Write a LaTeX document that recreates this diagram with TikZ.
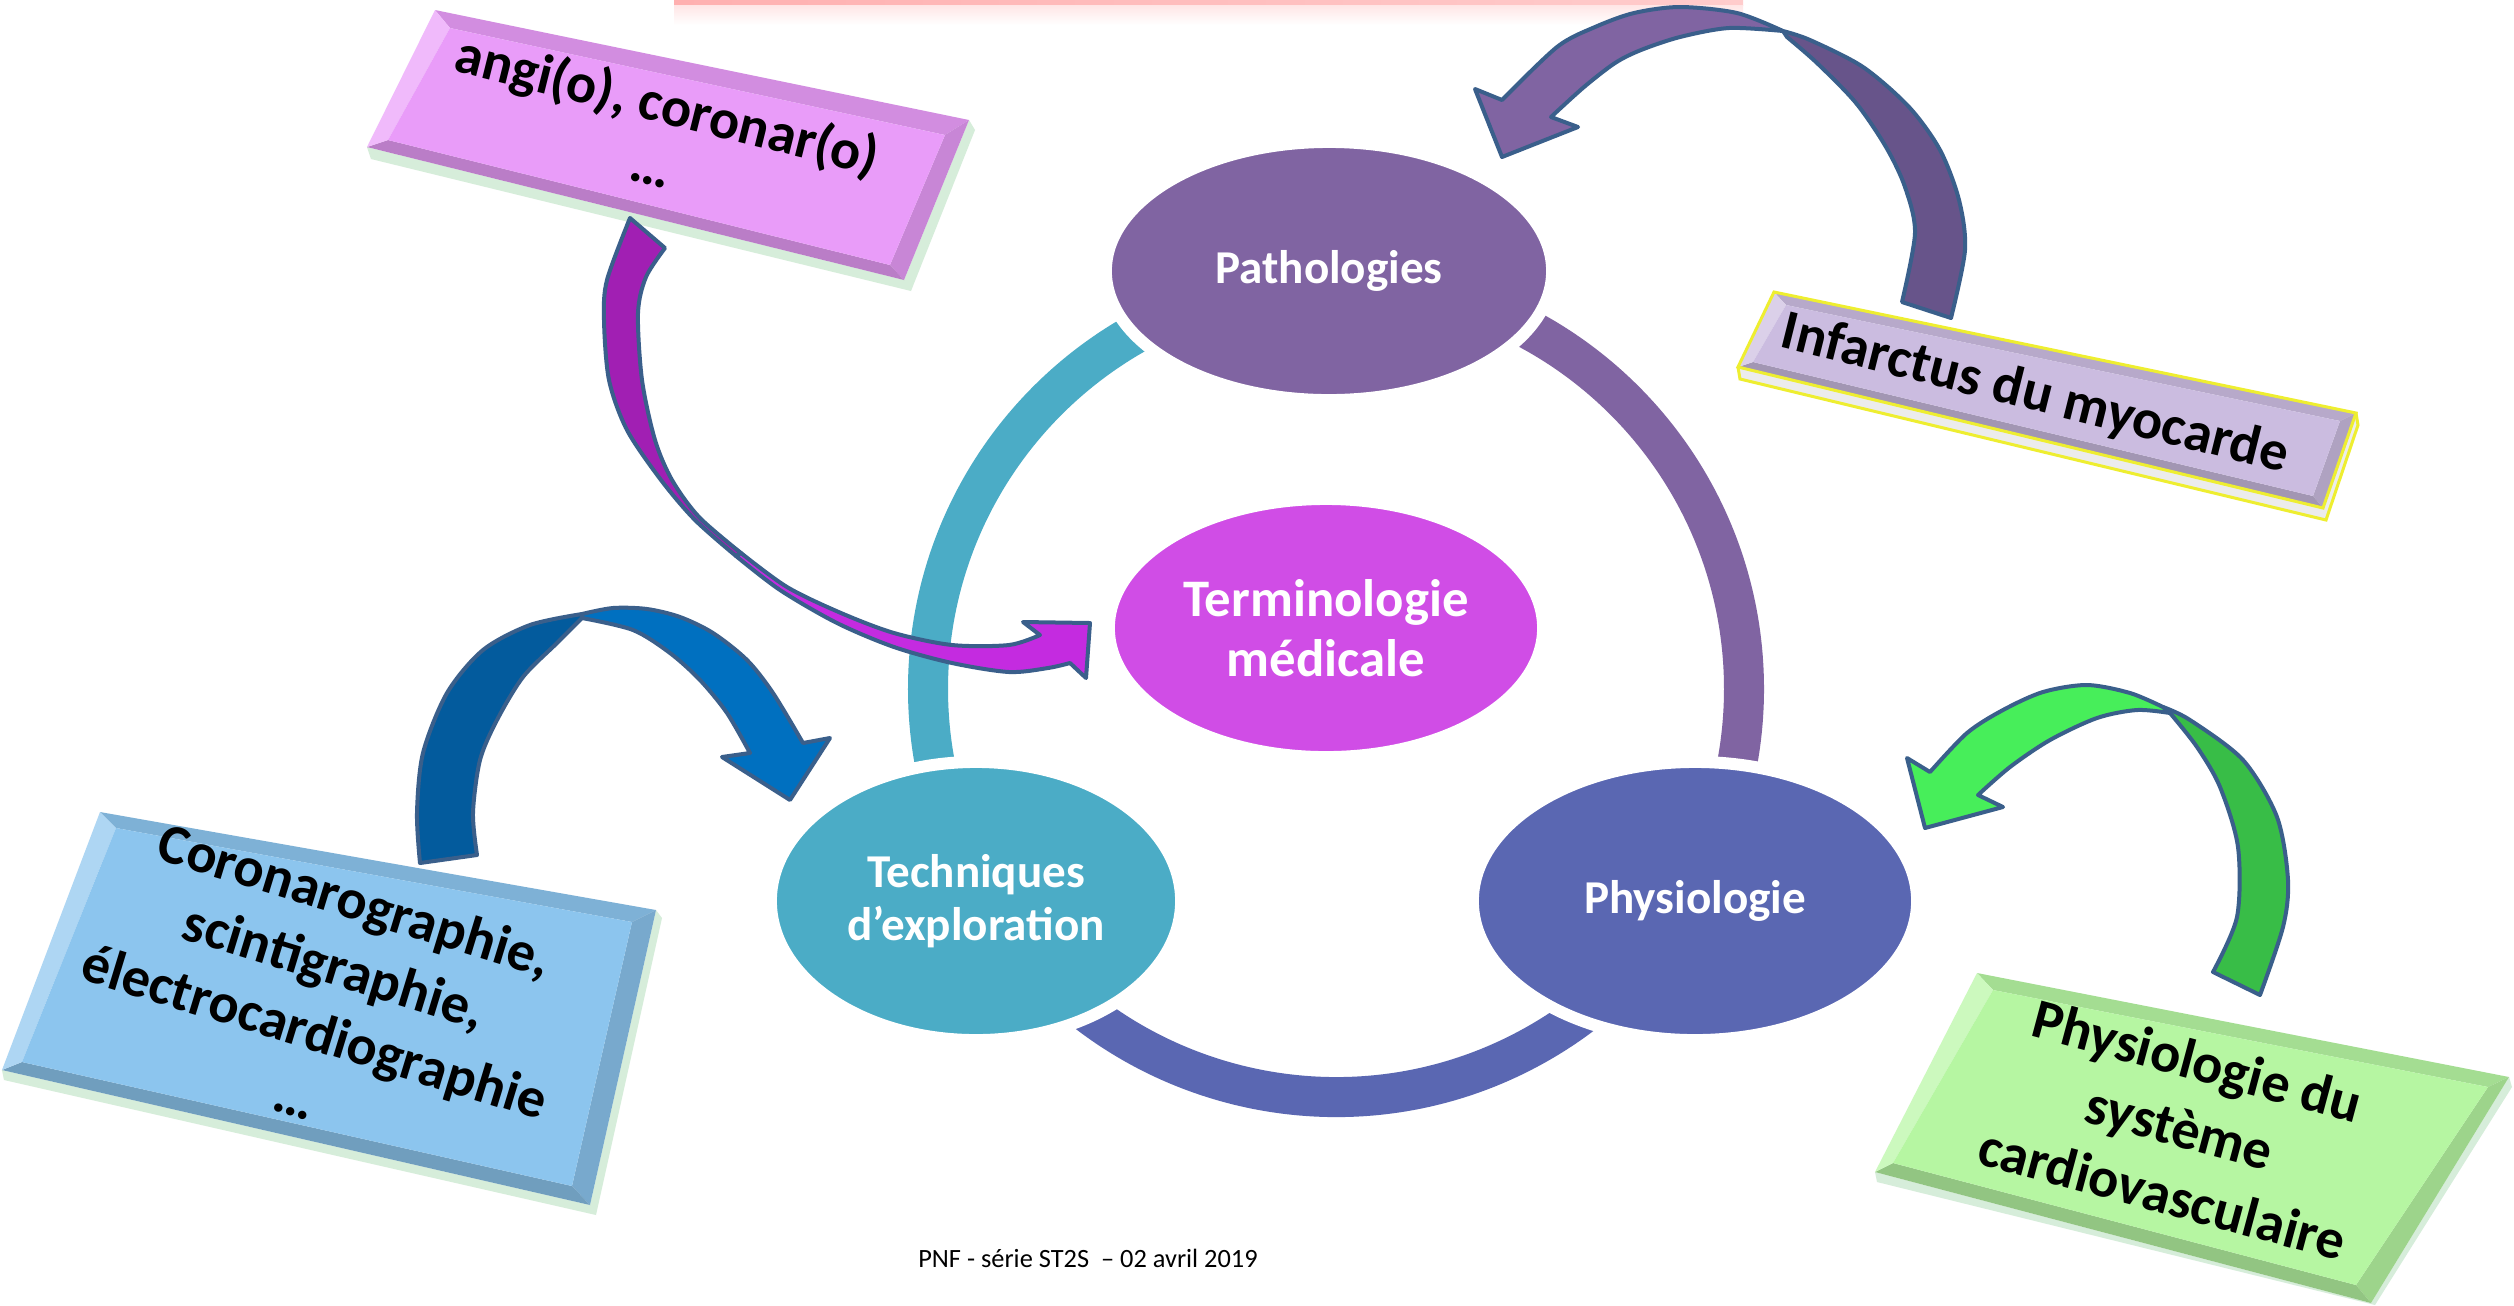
\documentclass[tikz,border=0pt]{standalone}
\usepackage{fontspec}
\setmainfont{Carlito}
\usepackage{tikz}
\usepackage{xcolor}
\usetikzlibrary{shapes.geometric}

\definecolor{pathocol}{HTML}{8064A2}
\definecolor{termcol}{HTML}{D04DE6}
\definecolor{techcol}{HTML}{4BACC6}
\definecolor{physiocol}{HTML}{5A67B2}
\definecolor{bandedge}{HTML}{3A5F8B}
\definecolor{purptail}{HTML}{67548A}
\definecolor{purphead}{HTML}{8064A2}
\definecolor{magtail}{HTML}{A11FB3}
\definecolor{maghead}{HTML}{C42BE0}
\definecolor{bluetail}{HTML}{035B9D}
\definecolor{bluehead}{HTML}{0070C0}
\definecolor{greentail}{HTML}{38BD47}
\definecolor{greenhead}{HTML}{47EE5A}
\definecolor{angibox}{HTML}{E99CF9}
\definecolor{infbox}{HTML}{CBBCE0}
\definecolor{corobox}{HTML}{8CC5EE}
\definecolor{physbox}{HTML}{B6F6A2}
\definecolor{edgegreen}{HTML}{D6EDDA}
\definecolor{barleft}{HTML}{FFB0B0}
\definecolor{barright}{HTML}{FFCCCC}
\definecolor{boxyellow}{HTML}{EEEE30}

\newcommand{\bevelbox}[9]{%
    \fill[#9!90!black] (#1) -- (#2) -- (#6) -- (#5) -- cycle;
    \fill[#9!86!black] (#2) -- (#3) -- (#7) -- (#6) -- cycle;
    \fill[#9!80!black] (#3) -- (#4) -- (#8) -- (#7) -- cycle;
    \fill[#9!70!white] (#4) -- (#1) -- (#5) -- (#8) -- cycle;
    \fill[#9] (#5) -- (#6) -- (#7) -- (#8) -- cycle;
}

\tikzset{
    hub/.style={ellipse, fill=#1, draw=white, line width=0.12cm, inner sep=0pt, text=white, align=center, font=\bfseries\fontsize{13.4}{15}\selectfont},
    ringarc/.style={line width=0.4cm},
    boxtext/.style={text=black, align=center, font=\bfseries\fontsize{16}{19.5}\selectfont},
    band/.style={draw=bandedge, line width=0.04cm, line join=round},
}

\begin{document}
\begin{tikzpicture}[x=0.01cm, y=-0.01cm]
    \useasboundingbox (0,0) rectangle (2514,1305);
    \fill[white] (0,0) rectangle (2514,1305);

    \shade[left color=barleft, right color=barright] (674,0) rectangle (1743,5);
    \shade[top color=barright!50, bottom color=white] (674,5) rectangle (1743,25);

    \coordinate (ring) at (1336,689);
    \draw[ringarc, techcol] (ring) ++(-90:408) arc[start angle=-90, end angle=-210, radius=408];
    \draw[ringarc, pathocol] (ring) ++(-90:408) arc[start angle=-90, end angle=30, radius=408];
    \draw[ringarc, physiocol] (ring) ++(150:408) arc[start angle=150, end angle=30, radius=408];

    \node[hub=pathocol, minimum width=4.46cm, minimum height=2.58cm] (patho) at (1329,271) {Pathologies};
    \node[hub=termcol, minimum width=4.34cm, minimum height=2.58cm, font=\bfseries\fontsize{15}{17}\selectfont] (term) at (1326,628) {Terminologie\\médicale};
    \node[hub=techcol, minimum width=4.1cm, minimum height=2.78cm] (tech) at (976,901) {Techniques\\d’exploration};
    \node[hub=physiocol, minimum width=4.44cm, minimum height=2.78cm] (physio) at (1695,901) {Physiologie};

    \fill[edgegreen] (367,147) -- (904,280) -- (969,120) -- (975,130) -- (911,291) -- (371,159) -- cycle;
    \bevelbox{435,10}{969,120}{904,280}{367,147}{450,28}{945,135}{890,265}{388,140}{angibox}
    \node[boxtext, rotate=-14, font=\bfseries\fontsize{16}{18}\selectfont] (angi) at (660,134) {angi(o), coronar(o)\\…};

    \fill[gray!15] (1738,367) -- (2323,508) -- (2356,413) -- (2358,425) -- (2326,520) -- (1740,379) -- cycle;
    \bevelbox{1774,292}{2356,413}{2323,508}{1738,367}{1786,305}{2340,421}{2313,496}{1753,362}{infbox}
    \draw[boxyellow, line width=0.03cm] (1774,292) -- (2356,413) -- (2323,508) -- (1738,367) -- cycle;
    \draw[boxyellow, line width=0.03cm] (1738,367) -- (1740,379) -- (2326,520) -- (2358,425) -- (2356,413);
    \node[boxtext, rotate=-14] (infarct) at (2035,395) {Infarctus du myocarde};

    \fill[edgegreen] (2,1070) -- (590,1205) -- (656,910) -- (662,918) -- (596,1215) -- (4,1080) -- cycle;
    \bevelbox{100,812}{656,910}{590,1205}{2,1070}{116,828}{632,922}{572,1186}{22,1062}{corobox}
    \node[boxtext, rotate=-17] (coro) at (325,998) {Coronarographie,\\scintigraphie,\\électrocardiographie\\…};

    \fill[edgegreen] (1875,1172) -- (2371,1303) -- (2509,1077) -- (2512,1087) -- (2375,1305) -- (1877,1182) -- cycle;
    \bevelbox{1977,973}{2509,1077}{2371,1303}{1875,1172}{1993,990}{2488,1087}{2356,1285}{1893,1163}{physbox}
    \node[boxtext, rotate=-15] (systeme) at (2180,1127) {Physiologie du\\système\\cardiovasculaire};

    \filldraw[band, fill=purptail] plot[smooth] coordinates {(1951,318) (1965,250) (1959,200) (1940,150) (1909,107) (1863,67) (1810,40) (1783,31)} -- plot[smooth] coordinates {(1787,37) (1817,63) (1856,103) (1886,147) (1905,187) (1915,233) (1902,302)} -- cycle;
    \filldraw[band, fill=purphead] plot[smooth] coordinates {(1783,31) (1737,13) (1680,7) (1634,13) (1595,27) (1557,47) (1502,100)} -- (1475,89) -- (1502,157) -- (1578,127) -- plot[smooth] coordinates {(1551,117) (1584,87) (1615,63) (1641,50) (1680,37) (1729,28) (1783,31)} -- cycle;

    \filldraw[band, fill=magtail] plot[smooth] coordinates {(630,218) (607,280) (604,320) (609,380) (627,430) (661,480) (695,520) (736,556)} -- plot[smooth] coordinates {(741,553) (699,517) (672,480) (655,440) (642,380) (638,313) (646,277) (665,248)} -- cycle;
    \filldraw[band, fill=maghead] plot[smooth] coordinates {(736,556) (780,590) (837,623) (894,647) (952,663) (1009,672) (1048,668) (1070,663)} -- (1086,678) -- (1090,623) -- (1023,622) -- plot[smooth] coordinates {(1040,635) (1009,645) (952,645) (894,633) (841,613) (787,587) (741,553)} -- cycle;

    \filldraw[band, fill=bluetail] plot[smooth] coordinates {(420,863) (417,813) (423,753) (447,693) (483,650) (530,625) (582,614)} -- plot[smooth] coordinates {(582,618) (557,643) (523,677) (497,720) (480,760) (473,813) (477,855)} -- cycle;
    \filldraw[band, fill=bluehead] plot[smooth] coordinates {(582,614) (613,608) (647,609) (680,617) (713,633) (747,660) (773,693) (803,743)} -- (830,738) -- (790,800) -- (722,757) -- plot[smooth] coordinates {(750,753) (727,713) (700,680) (670,653) (633,630) (582,618)} -- cycle;

    \filldraw[band, fill=greentail] plot[smooth] coordinates {(2260,995) (2283,927) (2288,880) (2277,817) (2243,760) (2190,720) (2163,707)} -- plot[smooth] coordinates {(2170,713) (2197,747) (2220,787) (2238,847) (2237,917) (2213,972)} -- cycle;
    \filldraw[band, fill=greenhead] plot[smooth] coordinates {(2163,707) (2130,693) (2087,685) (2043,692) (2003,710) (1967,733) (1930,772)} -- (1907,758) -- (1925,828) -- (2003,807) -- plot[smooth] coordinates {(1978,795) (2010,767) (2050,740) (2097,718) (2137,710) (2170,713)} -- cycle;

    \node[font=\fontsize{7.5}{9}\selectfont] (pied) at (1088,1258) {PNF - série ST2S~ – 02 avril 2019};
\end{tikzpicture}
\end{document}
